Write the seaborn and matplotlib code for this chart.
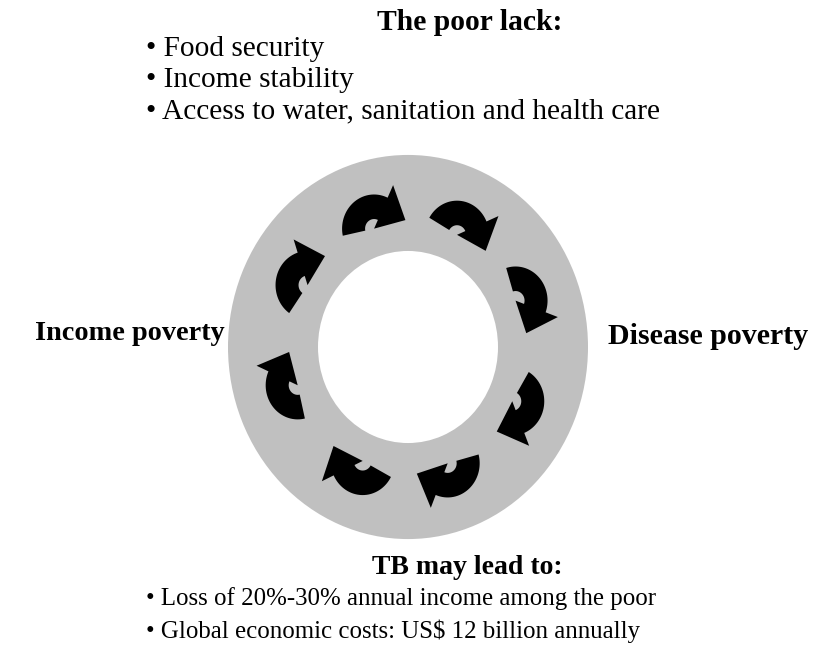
import numpy as np
import matplotlib.pyplot as plt
import seaborn as sns
from matplotlib.patches import Polygon, Wedge

# ---- diagram content ----
TOP_TITLE = "The poor lack:"
TOP_ITEMS = ["Food security", "Income stability",
             "Access to water, sanitation and health care"]
LEFT_LABEL = "Income poverty"
RIGHT_LABEL = "Disease poverty"
BOTTOM_TITLE = "TB may lead to:"
BOTTOM_ITEMS = ["Loss of 20%-30% annual income among the poor",
                "Global economic costs: US$ 12 billion annually"]
ARROW_ANGLES = [107, 65, 22, -26, -70, -113, -162, 150]  # degrees, clockwise cycle

sns.set_theme(style="white")
plt.rcParams['font.family'] = ['Liberation Serif', 'DejaVu Serif']

W, H = 824, 659
SY = 1.067          # ring is slightly taller than wide
CX, CY = 408, 347 / SY
R_OUT, R_IN = 180, 90
R_ARROW = 116


def arrow_poly(cx, cy, rot, r_in=9, r_out=32, a0=175, a1=48,
               head_in=0, head_out=45, tip=25):
    t = np.radians(np.linspace(a0, a1, 40))
    outer = np.c_[r_out * np.cos(t), r_out * np.sin(t)]
    inner = np.c_[r_in * np.cos(t[::-1]), r_in * np.sin(t[::-1])]
    te = np.radians(a1)
    rm = (r_in + r_out) / 2
    u = np.array([np.cos(te), np.sin(te)])
    tang = np.array([np.sin(te), -np.cos(te)])
    head = np.array([head_out * u, rm * u + tip * tang, head_in * u])
    pts = np.vstack([outer, head, inner])
    a = np.radians(rot)
    rmat = np.array([[np.cos(a), -np.sin(a)], [np.sin(a), np.cos(a)]])
    pts = pts @ rmat.T
    return np.c_[cx + pts[:, 0], cy - pts[:, 1]]


fig = plt.figure(figsize=(W / 100, H / 100), dpi=100)
ax = fig.add_axes([0, 0, 1, 1])
ax.set_xlim(0, W)
ax.set_ylim(H / SY, 0)
ax.axis('off')

ax.add_patch(Wedge((CX, CY), R_OUT, 0, 360, width=R_OUT - R_IN,
                   facecolor='#c0c0c0', edgecolor='none'))

for ang in ARROW_ANGLES:
    phi = np.radians(ang)
    px = CX + R_ARROW * np.cos(phi)
    py = CY - R_ARROW * np.sin(phi)
    ax.add_patch(Polygon(arrow_poly(px, py, ang - 90), closed=True,
                         facecolor='black', edgecolor='none'))


def put(x, y, s, size, **kw):
    fig.text(x / W, 1 - y / H, s, fontsize=size, va='center',
             color='black', **kw)


put(470, 23, TOP_TITLE, 21.3, ha='center', fontweight='bold')
for y, item in zip([49, 80, 111], TOP_ITEMS):
    put(146, y, "\u2022 " + item, 21.2, ha='left')

put(35, 333, LEFT_LABEL, 20.3, ha='left', fontweight='bold')
put(608, 336, RIGHT_LABEL, 21.5, ha='left', fontweight='bold')

put(467, 568, BOTTOM_TITLE, 20.0, ha='center', fontweight='bold')
for y, item in zip([599, 631], BOTTOM_ITEMS):
    put(146, y, "\u2022 " + item, 17.9, ha='left')

fig.savefig('out.png', dpi=100)
